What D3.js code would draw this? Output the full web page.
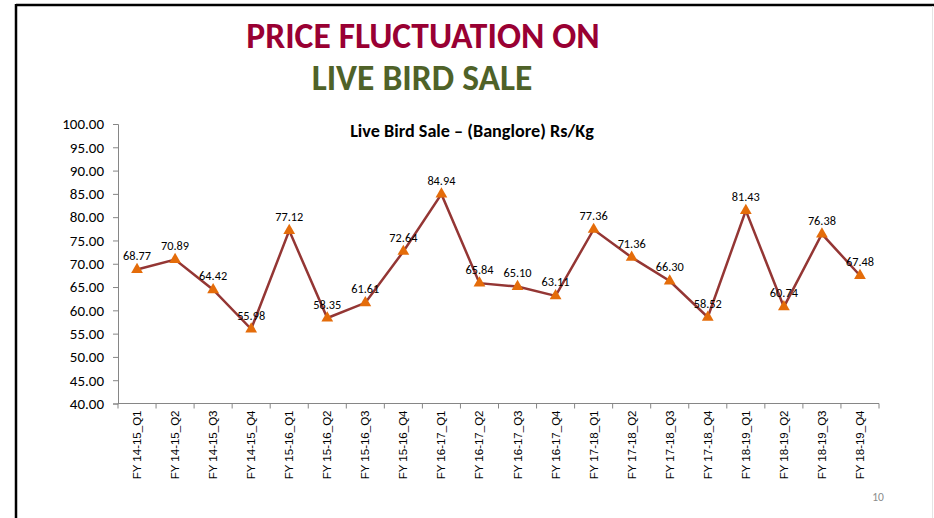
<!DOCTYPE html>
<html>
<head>
<meta charset="utf-8">
<script src="https://cdn.jsdelivr.net/npm/d3@7"></script>
<style>
  html, body { margin: 0; padding: 0; background: #fff; }
  svg { display: block; }
</style>
</head>
<body>
<svg id="chart" width="934" height="518"></svg>
<script>
const categories = ["FY 14-15_Q1","FY 14-15_Q2","FY 14-15_Q3","FY 14-15_Q4",
  "FY 15-16_Q1","FY 15-16_Q2","FY 15-16_Q3","FY 15-16_Q4",
  "FY 16-17_Q1","FY 16-17_Q2","FY 16-17_Q3","FY 16-17_Q4",
  "FY 17-18_Q1","FY 17-18_Q2","FY 17-18_Q3","FY 17-18_Q4",
  "FY 18-19_Q1","FY 18-19_Q2","FY 18-19_Q3","FY 18-19_Q4"];
const prices = [68.77, 70.89, 64.42, 55.98, 77.12, 58.35, 61.61, 72.64, 84.94, 65.84,
  65.10, 63.11, 77.36, 71.36, 66.30, 58.52, 81.43, 60.74, 76.38, 67.48];
const yTicks = [40, 45, 50, 55, 60, 65, 70, 75, 80, 85, 90, 95, 100];
const titleLine1 = "PRICE FLUCTUATION ON";
const titleLine2 = "LIVE BIRD SALE";
const chartTitle = "Live Bird Sale \u2013 (Banglore) Rs/Kg";
const pageNumber = "10";

const svg = d3.select("#chart");
const calibri = "Carlito, Lato, 'Open Sans', sans-serif";

// slide border
svg.append("line").attr("x1", 16).attr("x2", 934).attr("y1", 5).attr("y2", 5)
  .attr("stroke", "#000").attr("stroke-width", 2.5);
svg.append("line").attr("x1", 16).attr("x2", 16).attr("y1", 4).attr("y2", 518)
  .attr("stroke", "#000").attr("stroke-width", 2.5);
svg.append("line").attr("x1", 932.5).attr("x2", 932.5).attr("y1", 6).attr("y2", 518)
  .attr("stroke", "#e4e4e4").attr("stroke-width", 1);

// slide titles
svg.append("text").attr("x", 423).attr("y", 48).attr("text-anchor", "middle")
  .attr("font-family", calibri)
  .attr("font-weight", "bold").attr("font-size", 35.5).attr("fill", "#990033")
  .text(titleLine1);
svg.append("text").attr("x", 422).attr("y", 90).attr("text-anchor", "middle")
  .attr("font-family", calibri)
  .attr("font-weight", "bold").attr("font-size", 35.5).attr("fill", "#4f6228")
  .text(titleLine2);

// chart
const x = d3.scaleBand().domain(categories).range([118, 879]);
const y = d3.scaleLinear().domain([40, 100]).range([403.5, 124]);

svg.append("text").attr("x", 472).attr("y", 137).attr("text-anchor", "middle")
  .attr("font-family", calibri).attr("font-weight", "bold").attr("font-size", 18.2)
  .attr("fill", "#000").text(chartTitle);

const yAxis = svg.append("g").attr("transform", "translate(118,0)")
  .call(d3.axisLeft(y).tickValues(yTicks).tickFormat(d3.format(".2f")).tickSize(5).tickPadding(9));
yAxis.select(".domain").attr("stroke", "#868686");
yAxis.selectAll(".tick line").attr("stroke", "#868686");
yAxis.selectAll(".tick text").attr("font-family", calibri).attr("font-size", 15).attr("fill", "#000");

const xAxis = svg.append("g").attr("transform", "translate(0,403.5)")
  .call(d3.axisBottom(x).tickSize(0).tickPadding(0));
xAxis.select(".domain").attr("stroke", "#868686").attr("d", "M118,0H879");
// tick marks at category boundaries
const bounds = categories.map(c => x(c)).concat([x(categories[categories.length - 1]) + x.bandwidth()]);
xAxis.selectAll(".bound").data(bounds).join("line").attr("class", "bound")
  .attr("x1", d => d).attr("x2", d => d).attr("y1", 0).attr("y2", 5)
  .attr("stroke", "#868686");
xAxis.selectAll(".tick text")
  .attr("font-family", "'Liberation Sans', Arial, sans-serif").attr("font-size", 11.5)
  .attr("fill", "#000").attr("text-anchor", "end")
  .attr("transform", "translate(4,7) rotate(-90)").attr("dy", 0).attr("y", 0).attr("x", 0);

const cx = c => x(c) + x.bandwidth() / 2;

const line = d3.line().x((d, i) => cx(categories[i])).y(d => y(d));
svg.append("path").datum(prices).attr("d", line).attr("fill", "none")
  .attr("stroke", "#943634").attr("stroke-width", 2.5).attr("stroke-linejoin", "miter");

const tri = d3.symbol().type(d3.symbolTriangle).size(60);
svg.selectAll(".marker").data(prices).join("path").attr("class", "marker")
  .attr("d", tri).attr("transform", (d, i) => `translate(${cx(categories[i])},${y(d)})`)
  .attr("fill", "#e46c0a");

svg.selectAll(".dlabel").data(prices).join("text").attr("class", "dlabel")
  .attr("x", (d, i) => cx(categories[i])).attr("y", d => y(d) - 9.5)
  .attr("text-anchor", "middle").attr("font-family", calibri).attr("font-size", 12.3)
  .attr("fill", "#000").text(d => d.toFixed(2));

svg.append("text").attr("x", 878).attr("y", 501).attr("text-anchor", "middle")
  .attr("font-family", calibri).attr("font-size", 11.5).attr("fill", "#8c8c8c").text(pageNumber);
</script>
</body>
</html>
